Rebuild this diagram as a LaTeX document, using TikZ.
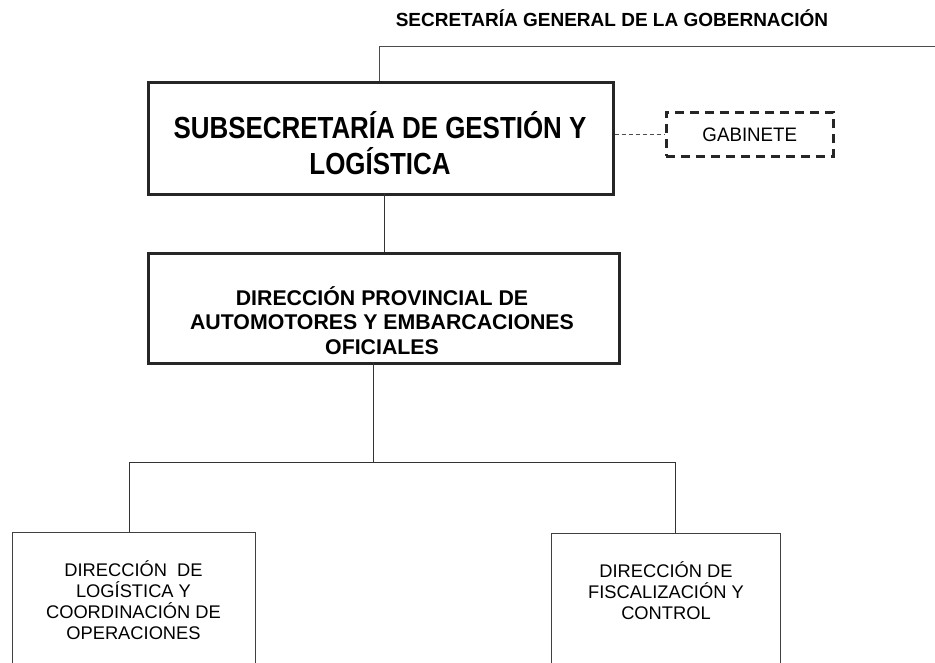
\documentclass[tikz,border=0pt]{standalone}
\usepackage{fontspec}
\setmainfont{Liberation Sans}
\newfontfamily\narrowfont[FakeStretch=0.85]{Liberation Sans}
\newfontfamily\gabfont[FakeStretch=0.96]{Liberation Sans}
\begin{document}
\begin{tikzpicture}[x=1pt,y=-1pt,
  thickbox/.style={draw=black!85,line width=2.7pt,inner sep=0pt,align=center,anchor=north west},
  thinbox/.style={draw=black!75,line width=1pt,inner sep=0pt,align=center,anchor=north west},
  conn/.style={draw=black!80,line width=1pt}]
\useasboundingbox (0,0) rectangle (935,663);
\node[font=\bfseries\fontsize{19}{22}\selectfont,anchor=base] (sec) at (612,27) {SECRETARÍA GENERAL DE LA GOBERNACIÓN};
\coordinate (secline) at (935,47);
\node[thickbox,minimum width=465pt,minimum height=112pt] (sub) at (147,81) {};
\node[font=\narrowfont\bfseries\fontsize{30.5}{36}\selectfont,align=center,anchor=base] (subt) at (380,175) {SUBSECRETARÍA DE GESTIÓN Y\\LOGÍSTICA};
\node[draw=black!85,line width=2.6pt,dash pattern=on 9pt off 6pt,inner sep=0pt,anchor=north west,
  minimum width=167pt,minimum height=44pt,font=\gabfont\fontsize{19.5}{22}\selectfont] (gab) at (665,111) {GABINETE};
\node[thickbox,minimum width=471pt,minimum height=110pt] (dp) at (147,252) {};
\node[font=\bfseries\fontsize{21.3}{24.5}\selectfont,align=center,anchor=base] (dpt) at (382,354) {DIRECCIÓN PROVINCIAL DE\\AUTOMOTORES Y EMBARCACIONES\\OFICIALES};
\node[thinbox,minimum width=243pt,minimum height=160pt] (dl) at (12,532) {};
\node[font=\fontsize{18.3}{21}\selectfont,align=center,anchor=base] (dlt) at (133.5,639) {DIRECCIÓN \ DE\\LOGÍSTICA Y\\COORDINACIÓN DE\\OPERACIONES};
\node[thinbox,minimum width=229pt,minimum height=160pt] (df) at (551,533) {};
\node[font=\fontsize{18.3}{21}\selectfont,align=center,anchor=base] (dft) at (666,619) {DIRECCIÓN DE\\FISCALIZACIÓN Y\\CONTROL};
\coordinate (top) at (379,47);
\draw[draw=black!70,line width=1pt] (secline) -- (top) -- (top |- sub.north);
\draw[conn] (384,193) coordinate (a1) -- (a1 |- dp.north);
\coordinate (bus) at (373,462);
\draw[conn] (373,362) coordinate (a2) -- (bus);
\draw[conn] (dl.north -| 129,0) -- (129,462) -- (675,462) -- (675,0 |- df.north);
\draw[draw=black!70,line width=1pt,dash pattern=on 4pt off 3pt] (sub.east |- 0,135) -- (gab.west |- 0,135);
\end{tikzpicture}
\end{document}
